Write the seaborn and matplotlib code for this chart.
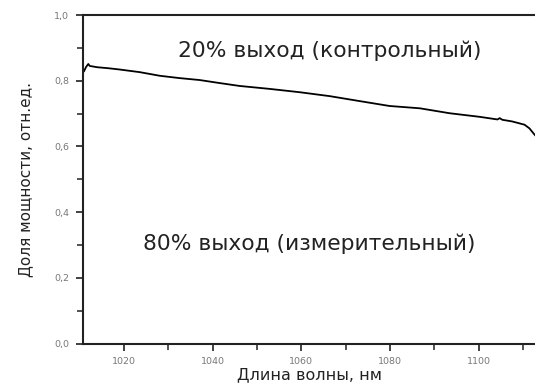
import matplotlib
matplotlib.use("Agg")
import matplotlib.pyplot as plt
import seaborn as sns
import pandas as pd
from matplotlib.ticker import MultipleLocator

# Data
wavelength_nm = [1011.0, 1011.5, 1012.0, 1012.3, 1014.0, 1016.5, 1019.1, 1023.6, 1028.1,
                 1032.5, 1037.1, 1041.5, 1046.1, 1052.9, 1059.6, 1066.4, 1073.1, 1079.9,
                 1086.7, 1093.4, 1100.2, 1104.2, 1104.7, 1105.3, 1107.5, 1109.2, 1110.3,
                 1111.4, 1112.3, 1112.8]
power_fraction = [0.828, 0.842, 0.851, 0.845, 0.841, 0.838, 0.834, 0.826, 0.815,
                  0.808, 0.802, 0.793, 0.784, 0.775, 0.765, 0.753, 0.738, 0.723,
                  0.716, 0.701, 0.690, 0.682, 0.686, 0.681, 0.676, 0.670, 0.666,
                  0.655, 0.640, 0.632]
x_ticks = [1020, 1040, 1060, 1080, 1100]
y_ticks = [0.0, 0.2, 0.4, 0.6, 0.8, 1.0]
y_tick_labels = ["0,0", "0,2", "0,4", "0,6", "0,8", "1,0"]
label_top = "20% выход (контрольный)"
label_bottom = "80% выход (измерительный)"
x_label = "Длина волны, нм"
y_label = "Доля мощности, отн.ед."

df = pd.DataFrame({"wl": wavelength_nm, "p": power_fraction})

sns.set_theme(style="white")
plt.rcParams["font.family"] = ["DejaVu Sans"]

fig = plt.figure(figsize=(5.35, 3.87), dpi=100)
ax = fig.add_axes([83 / 535, 1 - 343.5 / 387, 1 - 83 / 535 + 0.002, (343.5 - 15) / 387])

sns.lineplot(data=df, x="wl", y="p", ax=ax, color="black", linewidth=1.3)

ax.set_xlim(1010.8, 1112.9)
ax.set_ylim(0.0, 1.0)
ax.set_xticks(x_ticks)
ax.set_yticks(y_ticks)
ax.set_yticklabels(y_tick_labels)
ax.xaxis.set_minor_locator(MultipleLocator(10))
ax.yaxis.set_minor_locator(MultipleLocator(0.1))

ax.tick_params(axis="both", which="major", direction="out", length=5, width=1.3,
               color="#333333", labelsize=6.8, labelcolor="#777777", bottom=True, left=True)
ax.tick_params(axis="both", which="minor", direction="out", length=4, width=1.2,
               color="#333333", bottom=True, left=True)
ax.tick_params(axis="x", which="major", pad=5)
ax.tick_params(axis="y", which="major", pad=5)

for side in ["left", "bottom", "top"]:
    ax.spines[side].set_visible(True)
    ax.spines[side].set_color("#222222")
    ax.spines[side].set_linewidth(1.5)
ax.spines["right"].set_visible(False)

ax.set_xlabel(x_label, fontsize=11.5, color="#222222", labelpad=0.5)
ax.set_ylabel(y_label, fontsize=11, color="#222222", labelpad=15)

ax.text(1032.2, 0.872, label_top, fontsize=15.7, color="#222222", va="baseline", ha="left")
ax.text(1024.3, 0.285, label_bottom, fontsize=15.7, color="#222222", va="baseline", ha="left")

fig.savefig("out.png", dpi=100)
